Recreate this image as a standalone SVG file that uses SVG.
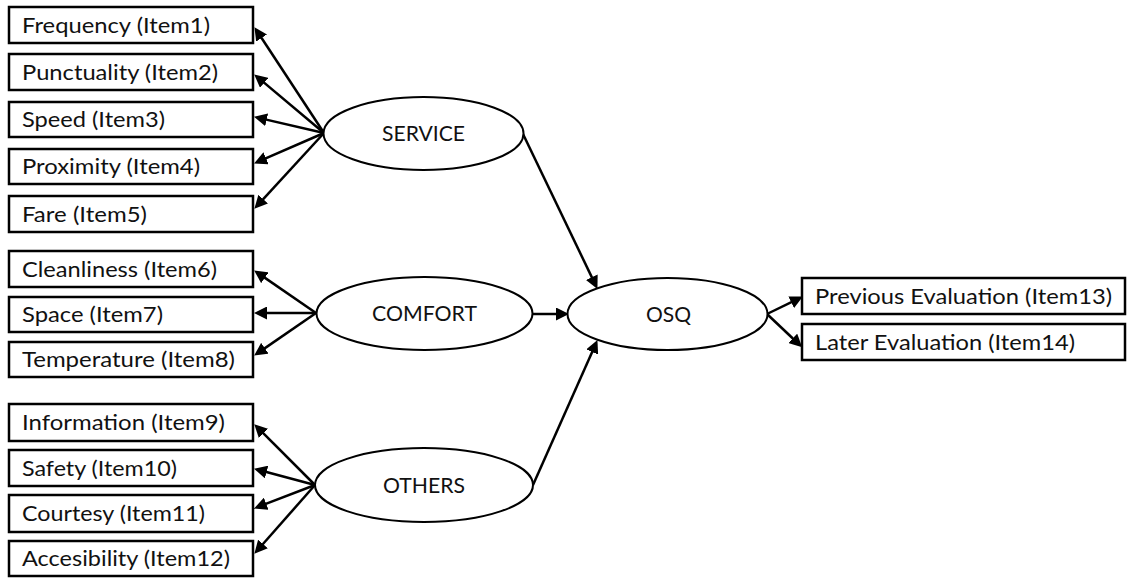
<svg xmlns="http://www.w3.org/2000/svg" width="1128" height="578" viewBox="0 0 1128 578">
<style>
.box{fill:#fff;stroke:#000;stroke-width:2.5}
.ell{fill:#fff;stroke:#000;stroke-width:2}
.t{font-family:Lato,"Open Sans","Liberation Sans",sans-serif;font-size:21px;fill:#111}
.c{text-anchor:middle}
.edge{stroke:#000;stroke-width:2.5;fill:none;marker-end:url(#ah)}
</style>
<defs>
<marker id="ah" markerUnits="userSpaceOnUse" markerWidth="13" markerHeight="13" refX="6" refY="6.5" orient="auto" viewBox="0 0 13 13">
<path d="M0,0 L13,6.5 L0,13 z" fill="#000"/>
</marker>
</defs>
<rect width="1128" height="578" fill="#fff"/>
<g id="connectors">
<line class="edge" x1="324" y1="133" x2="258.3" y2="33.0"/>
<line class="edge" x1="324" y1="133" x2="259.6" y2="78.9"/>
<line class="edge" x1="324" y1="133" x2="260.8" y2="118.4"/>
<line class="edge" x1="324" y1="133" x2="260.5" y2="160.6"/>
<line class="edge" x1="324" y1="133" x2="259.1" y2="203.6"/>
<line class="edge" x1="316" y1="313" x2="259.9" y2="274.4"/>
<line class="edge" x1="316" y1="313" x2="261" y2="313"/>
<line class="edge" x1="316" y1="313" x2="259.9" y2="351.6"/>
<line class="edge" x1="315" y1="485" x2="259.2" y2="429.2"/>
<line class="edge" x1="315" y1="485" x2="260.8" y2="470.5"/>
<line class="edge" x1="315" y1="485" x2="260.6" y2="505.9"/>
<line class="edge" x1="315" y1="485" x2="259.0" y2="548.5"/>
<line class="edge" x1="523" y1="134" x2="594.4" y2="282.6"/>
<line class="edge" x1="533" y1="314" x2="562" y2="314"/>
<line class="edge" x1="533" y1="485" x2="594.6" y2="346.5"/>
<line class="edge" x1="767" y1="314" x2="796.6" y2="299.6"/>
<line class="edge" x1="767" y1="314" x2="797.1" y2="342.5"/>
</g>
<g id="item1"><rect class="box" x="9" y="7" width="244" height="36"/><text class="t" x="22" y="33" textLength="188" lengthAdjust="spacingAndGlyphs">Frequency (Item1)</text></g>
<g id="item2"><rect class="box" x="9" y="54" width="244" height="36"/><text class="t" x="22" y="80" textLength="196" lengthAdjust="spacingAndGlyphs">Punctuality (Item2)</text></g>
<g id="item3"><rect class="box" x="9" y="102" width="244" height="35"/><text class="t" x="22" y="127" textLength="143" lengthAdjust="spacingAndGlyphs">Speed (Item3)</text></g>
<g id="item4"><rect class="box" x="9" y="149" width="244" height="35"/><text class="t" x="22" y="174" textLength="178" lengthAdjust="spacingAndGlyphs">Proximity (Item4)</text></g>
<g id="item5"><rect class="box" x="9" y="196" width="244" height="36"/><text class="t" x="22" y="222" textLength="125" lengthAdjust="spacingAndGlyphs">Fare (Item5)</text></g>
<g id="item6"><rect class="box" x="9" y="251" width="244" height="36"/><text class="t" x="22" y="277" textLength="195" lengthAdjust="spacingAndGlyphs">Cleanliness (Item6)</text></g>
<g id="item7"><rect class="box" x="9" y="297" width="244" height="35"/><text class="t" x="22" y="322" textLength="141" lengthAdjust="spacingAndGlyphs">Space (Item7)</text></g>
<g id="item8"><rect class="box" x="9" y="342" width="244" height="35"/><text class="t" x="22" y="367" textLength="213" lengthAdjust="spacingAndGlyphs">Temperature (Item8)</text></g>
<g id="item9"><rect class="box" x="9" y="404" width="244" height="37"/><text class="t" x="22" y="430" textLength="203" lengthAdjust="spacingAndGlyphs">Information (Item9)</text></g>
<g id="item10"><rect class="box" x="9" y="450" width="244" height="36"/><text class="t" x="22" y="476" textLength="155" lengthAdjust="spacingAndGlyphs">Safety (Item10)</text></g>
<g id="item11"><rect class="box" x="9" y="495" width="244" height="37"/><text class="t" x="22" y="521" textLength="183" lengthAdjust="spacingAndGlyphs">Courtesy (Item11)</text></g>
<g id="item12"><rect class="box" x="9" y="541" width="244" height="35"/><text class="t" x="22" y="566" textLength="208" lengthAdjust="spacingAndGlyphs">Accesibility (Item12)</text></g>
<g id="item13"><rect class="box" x="802" y="278" width="323" height="36"/><text class="t" x="815" y="304" textLength="297" lengthAdjust="spacingAndGlyphs">Previous Evaluation (Item13)</text></g>
<g id="item14"><rect class="box" x="802" y="324" width="323" height="36"/><text class="t" x="815" y="350" textLength="260" lengthAdjust="spacingAndGlyphs">Later Evaluation (Item14)</text></g>
<g id="service"><ellipse class="ell" cx="423.5" cy="133.5" rx="100" ry="36.5"/><text class="t c" x="423.5" y="141" textLength="83" lengthAdjust="spacingAndGlyphs">SERVICE</text></g>
<g id="comfort"><ellipse class="ell" cx="424.5" cy="313.5" rx="108" ry="36.5"/><text class="t c" x="424.5" y="321" textLength="105" lengthAdjust="spacingAndGlyphs">COMFORT</text></g>
<g id="others"><ellipse class="ell" cx="424" cy="485" rx="109" ry="37"/><text class="t c" x="424" y="493" textLength="82" lengthAdjust="spacingAndGlyphs">OTHERS</text></g>
<g id="osq"><ellipse class="ell" cx="667.5" cy="314" rx="100" ry="36"/><text class="t c" x="668.5" y="322" textLength="45" lengthAdjust="spacingAndGlyphs">OSQ</text></g>
</svg>
